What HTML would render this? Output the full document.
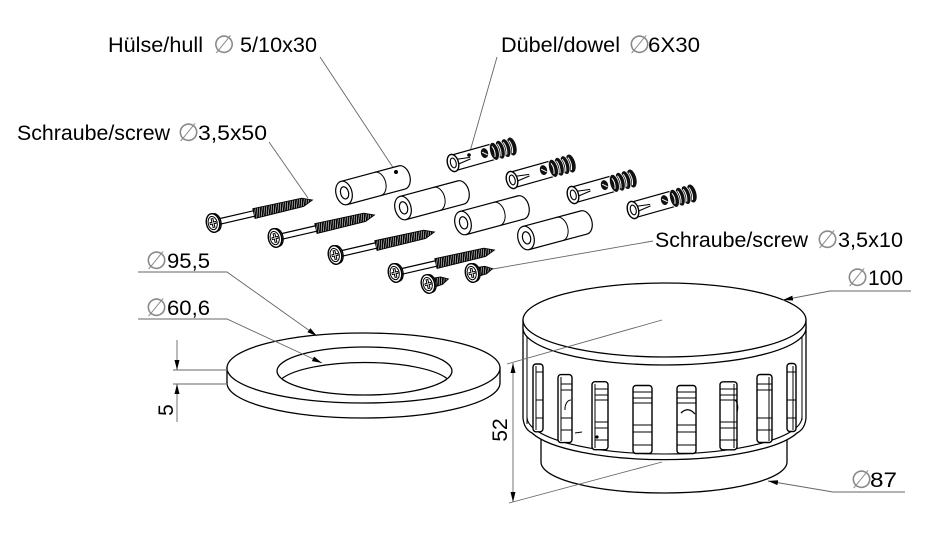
<!DOCTYPE html>
<html>
<head>
<meta charset="utf-8">
<style>
  html, body { margin: 0; padding: 0; background: #fff; }
  svg { display: block; }
  .t { font-family: "Liberation Sans", Arial, sans-serif; font-size: 21px; fill: #000; }
  .d { font-family: "DejaVu Sans", "Liberation Sans", sans-serif; font-size: 25px; fill: #8a8a8a; }
  .ld { stroke: #666; stroke-width: 0.9; fill: none; }
</style>
</head>
<body>
<svg width="927" height="546" viewBox="0 0 927 546" xmlns="http://www.w3.org/2000/svg">
  <defs>
    <marker id="ar" markerUnits="userSpaceOnUse" markerWidth="11" markerHeight="6" refX="10" refY="2.5" orient="auto-start-reverse">
      <path d="M0,0 L10,2.5 L0,5 Z" fill="#000"/>
    </marker>
    <pattern id="thr" width="2.4" height="12" patternUnits="userSpaceOnUse" patternTransform="skewX(-18)">
      <rect width="2.4" height="12" fill="#fff"/>
      <rect width="1.8" height="12" fill="#000"/>
    </pattern>

    <g id="screw">
      <line x1="4" y1="-2.8" x2="44" y2="-2.8" stroke="#000" stroke-width="1.2"/>
      <line x1="4" y1="2.8" x2="44" y2="2.8" stroke="#000" stroke-width="1.2"/>
      <path d="M42,-5 L92,-4.2 L102,0 L92,4.2 L42,5 Z" fill="url(#thr)" stroke="#000" stroke-width="0.9"/>
      <ellipse cx="2.2" cy="0" rx="5.8" ry="9" fill="#fff" stroke="#000" stroke-width="1.3"/>
      <ellipse cx="0" cy="0" rx="6.6" ry="9.4" fill="#fff" stroke="#000" stroke-width="1.4"/>
      <ellipse cx="-0.3" cy="0" rx="4.5" ry="6.7" fill="none" stroke="#000" stroke-width="1"/>
      <path d="M-3.4,0 H3.4 M0,-5 V5" stroke="#000" stroke-width="2.8"/>
      <path d="M-2.7,0 H2.7 M0,-4.3 V4.3" stroke="#fff" stroke-width="0.8"/>
    </g>

    <g id="sscrew">
      <path d="M4,-4.6 L14,-3.8 L21,0 L14,3.8 L4,4.6 Z" fill="url(#thr)" stroke="#000" stroke-width="0.9"/>
      <ellipse cx="2.2" cy="0" rx="5.8" ry="9" fill="#fff" stroke="#000" stroke-width="1.3"/>
      <ellipse cx="0" cy="0" rx="6.6" ry="9.4" fill="#fff" stroke="#000" stroke-width="1.4"/>
      <ellipse cx="-0.3" cy="0" rx="4.5" ry="6.7" fill="none" stroke="#000" stroke-width="1"/>
      <path d="M-3.4,0 H3.4 M0,-5 V5" stroke="#000" stroke-width="2.8"/>
      <path d="M-2.7,0 H2.7 M0,-4.3 V4.3" stroke="#fff" stroke-width="0.8"/>
    </g>

    <g id="tube">
      <path d="M0,-12 L60,-12 A8,12 0 0,1 60,12 L0,12 Z" fill="#fff" stroke="#000" stroke-width="1.2"/>
      <path d="M35,-12 A8,12 0 0,1 35,12" fill="none" stroke="#000" stroke-width="1"/>
      <ellipse cx="0" cy="0" rx="8" ry="12" fill="#fff" stroke="#000" stroke-width="1.2"/>
      <ellipse cx="0.6" cy="0" rx="4" ry="6.2" fill="#fff" stroke="#000" stroke-width="1.2"/>
    </g>

    <g id="dowel">
      <path d="M0,-8 L40,-8 L40,8 L0,8 Z" fill="#fff" stroke="#000" stroke-width="1.2"/>
      <ellipse cx="61" cy="0" rx="4.5" ry="9.2" fill="#111"/>
      <ellipse cx="55" cy="0" rx="4.5" ry="9.6" fill="#111" stroke="#fff" stroke-width="0.8"/>
      <ellipse cx="49" cy="0" rx="4.5" ry="9.6" fill="#111" stroke="#fff" stroke-width="0.8"/>
      <ellipse cx="43" cy="0" rx="4.5" ry="9.3" fill="#111" stroke="#fff" stroke-width="0.8"/>
      <path d="M42,-5.5 Q44.5,0 42,5.5 M48,-6.5 Q50.5,0 48,6.5 M54,-6.5 Q56.5,0 54,6.5 M60,-6.5 Q62.5,0 60,6.5" stroke="#fff" stroke-width="1" fill="none"/>
      <ellipse cx="33" cy="-1" rx="3.6" ry="5" fill="#111"/>
      <path d="M31,-2.5 L35.5,1.5" stroke="#fff" stroke-width="0.9"/>
      <path d="M3,-2.8 L18,-0.8 M3,2.8 L18,0.8" stroke="#000" stroke-width="1.1" fill="none"/>
      <ellipse cx="0" cy="0" rx="5.5" ry="8.8" fill="#fff" stroke="#000" stroke-width="1.4"/>
      <ellipse cx="0.3" cy="0" rx="2.8" ry="5" fill="#fff" stroke="#000" stroke-width="1.1"/>
    </g>
  </defs>

  <rect width="927" height="546" fill="#fff"/>

  <!-- ===== Labels ===== -->
  <text class="t" x="108" y="52" textLength="95" lengthAdjust="spacingAndGlyphs">Hülse/hull</text>
  <text class="d" x="224" y="53" text-anchor="middle">∅</text>
  <text class="t" x="240" y="52" textLength="77" lengthAdjust="spacingAndGlyphs">5/10x30</text>

  <text class="t" x="17" y="140" textLength="153" lengthAdjust="spacingAndGlyphs">Schraube/screw</text>
  <text class="d" x="188.5" y="141" text-anchor="middle">∅</text>
  <text class="t" x="198" y="140" textLength="69" lengthAdjust="spacingAndGlyphs">3,5x50</text>

  <text class="t" x="501" y="52" textLength="119" lengthAdjust="spacingAndGlyphs">Dübel/dowel</text>
  <text class="d" x="639.5" y="53" text-anchor="middle">∅</text>
  <text class="t" x="648" y="52" textLength="52" lengthAdjust="spacingAndGlyphs">6X30</text>

  <text class="t" x="655" y="247" textLength="153" lengthAdjust="spacingAndGlyphs">Schraube/screw</text>
  <text class="d" x="827.5" y="248" text-anchor="middle">∅</text>
  <text class="t" x="838" y="247" textLength="65" lengthAdjust="spacingAndGlyphs">3,5x10</text>

  <text class="d" x="857.5" y="286" text-anchor="middle">∅</text>
  <text class="t" x="868" y="285" textLength="35" lengthAdjust="spacingAndGlyphs">100</text>

  <text class="d" x="156.5" y="269" text-anchor="middle">∅</text>
  <text class="t" x="167" y="268" textLength="43" lengthAdjust="spacingAndGlyphs">95,5</text>

  <text class="d" x="156.5" y="316" text-anchor="middle">∅</text>
  <text class="t" x="167" y="315" textLength="43" lengthAdjust="spacingAndGlyphs">60,6</text>

  <text class="d" x="861.5" y="488" text-anchor="middle">∅</text>
  <text class="t" x="870" y="487" textLength="27" lengthAdjust="spacingAndGlyphs">87</text>

  <text class="t" transform="translate(173,410) rotate(-90)" text-anchor="middle">5</text>
  <text class="t" transform="translate(507,430) rotate(-90)" text-anchor="middle">52</text>

  <!-- ===== Leader lines ===== -->
  <path class="ld" d="M320,57 L396,172"/>
  <path class="ld" d="M497,57 L469,155"/>
  <path class="ld" d="M269,142 L308,198"/>
  <path class="ld" d="M653,241 L487,270"/>

  <!-- ===== Screws ===== -->
  <use href="#screw" transform="translate(213,223) rotate(-13)"/>
  <use href="#screw" transform="translate(275,238) rotate(-13)"/>
  <use href="#screw" transform="translate(335,255) rotate(-13)"/>
  <use href="#screw" transform="translate(395,273) rotate(-13)"/>
  <use href="#sscrew" transform="translate(428,284) rotate(-14)"/>
  <use href="#sscrew" transform="translate(472,273) rotate(-12)"/>

  <!-- ===== Hull tubes ===== -->
  <use href="#tube" transform="translate(344,193) rotate(-15)"/>
  <use href="#tube" transform="translate(403,208) rotate(-15)"/>
  <use href="#tube" transform="translate(463,223) rotate(-15)"/>
  <use href="#tube" transform="translate(526,238) rotate(-15)"/>
  <circle cx="396" cy="172" r="2" fill="#000"/>

  <!-- ===== Dowels ===== -->
  <use href="#dowel" transform="translate(453,163) rotate(-15.7)"/>
  <use href="#dowel" transform="translate(512,180) rotate(-15.7)"/>
  <use href="#dowel" transform="translate(573,195) rotate(-15.7)"/>
  <use href="#dowel" transform="translate(633,210) rotate(-15.7)"/>
  <circle cx="469" cy="155" r="1.8" fill="#000"/>

  <!-- ===== Ring ===== -->
  <path d="M227,368 L227,383 A136.5,35 0 0,0 500,383 L500,368 Z" fill="#fff" stroke="#000" stroke-width="1.3"/>
  <ellipse cx="363.5" cy="368" rx="136.5" ry="35" fill="#fff" stroke="#000" stroke-width="1.3"/>
  <ellipse cx="364.5" cy="371" rx="87.5" ry="24" fill="#fff" stroke="#000" stroke-width="1.3"/>
  <path d="M282,378.5 A87.5,24 0 0,1 447,378.5" fill="none" stroke="#000" stroke-width="1.2"/>

  <!-- ring dimension lines -->
  <path class="ld" d="M138,272 L227,272 L317,336" marker-end="url(#ar)"/>
  <path class="ld" d="M138,319 L227,319 L322,363" marker-end="url(#ar)"/>
  <path class="ld" d="M173,370 L228,370 M173,384 L228,384"/>
  <path class="ld" d="M177,340 L177,370" marker-end="url(#ar)"/>
  <path class="ld" d="M177,422 L177,384" marker-end="url(#ar)"/>

  <!-- ===== Cap ===== -->
  <path d="M541,436 L541,462 A123,31 0 0,0 787,462 L787,436 Z" fill="#fff" stroke="#000" stroke-width="1.3"/>
  <path d="M523,326 L523,418 Q524,429 532,433 A138,37 0 0,0 797,433 Q805,429 806,418 L806,326 Z" fill="#fff" stroke="#000" stroke-width="1.3"/>
  <path d="M527,417 A137.5,37 0 0,0 802,417" fill="none" stroke="#000" stroke-width="1.1"/>
  <path d="M527,330 L527,424" fill="none" stroke="#000" stroke-width="1"/>
  <path d="M802,330 L802,420" fill="none" stroke="#000" stroke-width="1"/>

  <g stroke="#000" fill="#fff">
    <rect x="533" y="364" width="10" height="67.8" rx="3" stroke-width="1.4"/>
    <rect x="558" y="374.6" width="14" height="68" rx="3" stroke-width="1.4"/>
    <rect x="592" y="381.7" width="16" height="68" rx="3" stroke-width="1.4"/>
    <rect x="633" y="385.5" width="19" height="68" rx="3" stroke-width="1.4"/>
    <rect x="677" y="385.5" width="19" height="68" rx="3" stroke-width="1.4"/>
    <rect x="720" y="381.8" width="17" height="68" rx="3" stroke-width="1.4"/>
    <rect x="757" y="374.5" width="15" height="68" rx="3" stroke-width="1.4"/>
    <rect x="787" y="363.5" width="9" height="68" rx="3" stroke-width="1.4"/>
  </g>
  <g stroke="#000" stroke-width="1" fill="none">
    <path d="M536,366 V430 M561,377 V441 M595,384 V448 M734,384 V448 M769,377 V441 M793,366 V430"/>
    <path d="M536,372 H543 M536,400 H543 M536,418 H543"/>
    <path d="M561,384 H572 M561,390 H572 M561,418 H572 M561,430 H572"/>
    <path d="M595,389 H608 M595,395 H608 M595,400 H608 M595,422 H608 M595,428 H608 M595,440 H608"/>
    <path d="M633,392 H652 M633,398 H652 M633,403 H652 M633,425 H652 M633,432 H652 M633,445 H652"/>
    <path d="M677,392 H696 M677,398 H696 M677,403 H696 M677,425 H696 M677,432 H696 M677,445 H696"/>
    <path d="M720,389 H737 M720,395 H737 M720,400 H737 M720,422 H737 M720,428 H737 M720,440 H737"/>
    <path d="M757,384 H772 M757,390 H772 M757,418 H772 M757,430 H772"/>
    <path d="M787,372 H796 M787,400 H796 M787,418 H796"/>
    <path d="M681,413 Q688,406 695,414" stroke-width="1.3"/>
    <path d="M565,410 A6,9 0 0,1 571,400 M735,400 A6,9 0 0,1 737,412"/>
    <path d="M575,433 L582,432"/>
  </g>
  <circle cx="597" cy="437" r="1.6" fill="#000"/>

  <path d="M523,320 L523,328 A141.5,37 0 0,0 806,328 L806,320 Z" fill="#fff" stroke="#000" stroke-width="1.3"/>
  <ellipse cx="664.5" cy="320" rx="141.5" ry="37" fill="#fff" stroke="#000" stroke-width="1.3"/>

  <path class="ld" d="M507,364 L662,320"/>
  <path class="ld" d="M509,503 L662,462"/>
  <path class="ld" d="M513,363 L513,502" marker-start="url(#ar)" marker-end="url(#ar)"/>
  <path class="ld" d="M911,291 L830,291 L783,300" marker-end="url(#ar)"/>
  <path class="ld" d="M905,492 L833,492 L768,481" marker-end="url(#ar)"/>
</svg>
</body>
</html>
